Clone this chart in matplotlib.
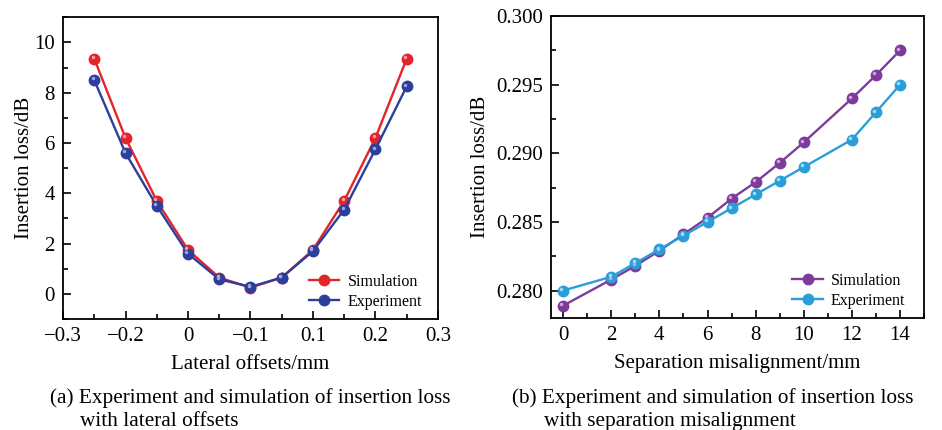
import matplotlib.pyplot as plt
import matplotlib.transforms as mtransforms
from matplotlib.ticker import MultipleLocator, FixedLocator
import numpy as np

plt.rcParams['font.family'] = ['Liberation Serif', 'DejaVu Serif']
plt.rcParams['mathtext.fontset'] = 'stix'

# (a) lateral offsets
lat_x = [-0.25, -0.2, -0.15, -0.1, -0.05, 0, 0.05, 0.1, 0.15, 0.2, 0.25]
lat_sim = [9.35, 6.2, 3.7, 1.75, 0.65, 0.25, 0.65, 1.75, 3.7, 6.2, 9.35]
lat_exp = [8.5, 5.6, 3.5, 1.6, 0.58, 0.28, 0.65, 1.7, 3.35, 5.75, 8.25]
lat_ticks = [-0.3, -0.2, -0.1, 0, 0.1, 0.2, 0.3]
lat_ticklabels = ['\u22120.3', '\u22120.2', '0', '\u22120.1', '0.1', '0.2', '0.3']

# (b) separation misalignment
sep_x = [0, 2, 3, 4, 5, 6, 7, 8, 9, 10, 12, 13, 14]
sep_sim = [0.2789, 0.2808, 0.2818, 0.2829, 0.2841, 0.2853, 0.2867, 0.2879,
           0.2893, 0.2908, 0.2940, 0.2957, 0.2975]
sep_exp = [0.2800, 0.2810, 0.2820, 0.2830, 0.2840, 0.2850, 0.2860, 0.2870,
           0.2880, 0.2890, 0.2910, 0.2930, 0.2950]

fig = plt.figure(figsize=(9.42, 4.30), dpi=100)
ax1 = fig.add_axes([0.0669, 0.258, 0.398, 0.702])
ax2 = fig.add_axes([0.585, 0.2605, 0.396, 0.702])


def ball_line(ax, x, y, color, hi, label):
    ax.plot(x, y, color=color, lw=1.7, marker='o', ms=7.5, mec=color,
            mfc=color, label=label, zorder=3)
    tr = mtransforms.offset_copy(ax.transData, fig=fig, x=-1.2, y=1.2, units='points')
    ax.plot(x, y, ls='none', marker='o', ms=2.5, mfc=hi, mec='none',
            transform=tr, zorder=4)


ball_line(ax1, lat_x, lat_sim, '#e3242b', '#f6a0a4', 'Simulation')
ball_line(ax1, lat_x, lat_exp, '#2b3f9c', '#9aa6dc', 'Experiment')
ax1.set_xlim(-0.3, 0.3)
ax1.set_ylim(-1, 11)
ax1.xaxis.set_major_locator(FixedLocator(lat_ticks))
ax1.set_xticklabels(lat_ticklabels)
ax1.xaxis.set_minor_locator(MultipleLocator(0.05))
ax1.yaxis.set_major_locator(FixedLocator([0, 2, 4, 6, 8, 10]))
ax1.yaxis.set_minor_locator(MultipleLocator(1))
ax1.set_xlabel('Lateral offsets/mm', fontsize=15, labelpad=6)
ax1.set_ylabel('Insertion loss/dB', fontsize=15, labelpad=0)

ball_line(ax2, sep_x, sep_sim, '#7d3c9c', '#c9a6dc', 'Simulation')
ball_line(ax2, sep_x, sep_exp, '#2a9ed8', '#a6dbf4', 'Experiment')
ax2.set_xlim(-0.5, 15)
ax2.set_ylim(0.278, 0.300)
ax2.xaxis.set_major_locator(FixedLocator([0, 2, 4, 6, 8, 10, 12, 14]))
ax2.xaxis.set_minor_locator(MultipleLocator(1))
ax2.yaxis.set_major_locator(FixedLocator([0.280, 0.285, 0.290, 0.295, 0.300]))
ax2.yaxis.set_minor_locator(MultipleLocator(0.0025))
ax2.yaxis.set_major_formatter(plt.FormatStrFormatter('%.3f'))
ax2.set_xlabel('Separation misalignment/mm', fontsize=15, labelpad=6)
ax2.set_ylabel('Insertion loss/dB', fontsize=15)

for ax, rx in ((ax1, 0.957), (ax2, 0.949)):
    for s in ax.spines.values():
        s.set_linewidth(1.3)
    ax.tick_params(which='both', direction='in', top=False, right=False,
                   labelsize=15, width=1.2)
    ax.tick_params(which='major', length=6, pad=6)
    ax.tick_params(which='minor', length=3.5)
    ax.legend(loc='lower right', frameon=False, fontsize=11.5,
              handlelength=1.9, handletextpad=0.5, labelspacing=0.25,
              borderaxespad=0, borderpad=0, bbox_to_anchor=(rx, 0.03))

cap = dict(fontsize=15.3, va='baseline')
fig.text(0.053, 0.063, '(a) Experiment and simulation of insertion loss', **cap)
fig.text(0.085, 0.009, 'with lateral offsets', **cap)
fig.text(0.543, 0.063, '(b) Experiment and simulation of insertion loss', **cap)
fig.text(0.577, 0.009, 'with separation misalignment', **cap)

fig.savefig('out.png', dpi=100)
